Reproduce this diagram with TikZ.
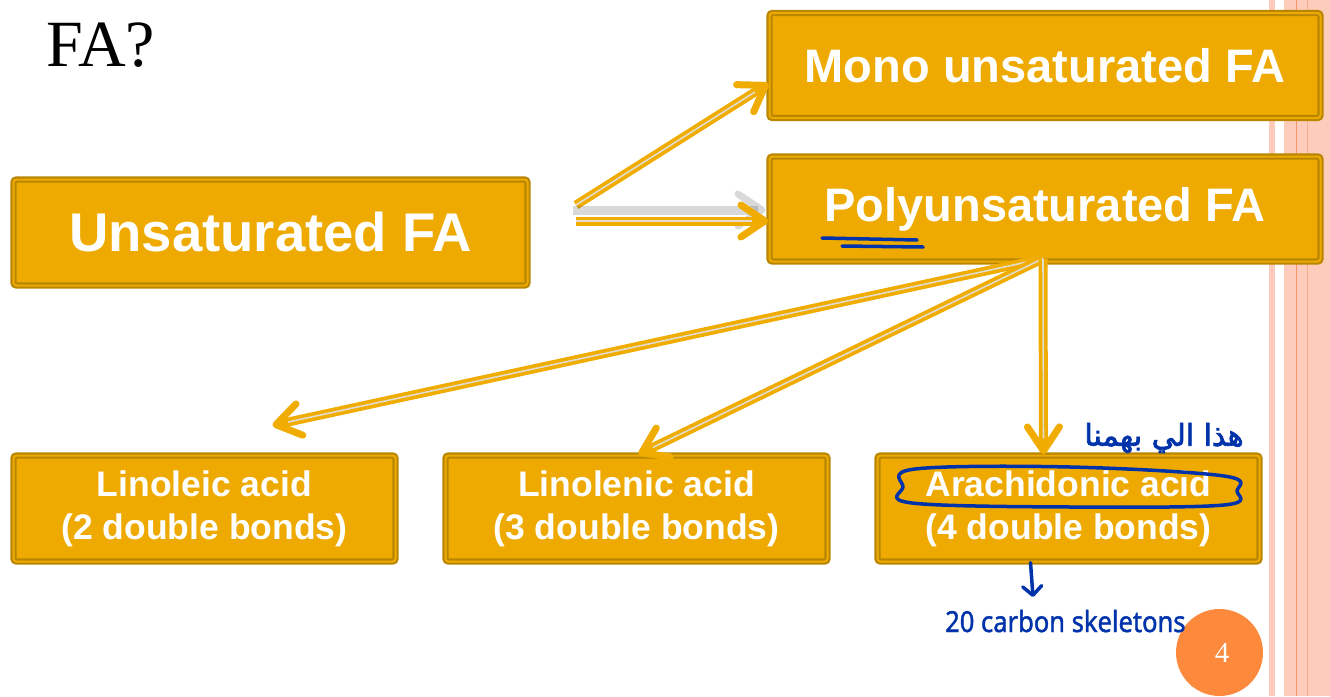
\documentclass[tikz,border=0pt]{standalone}
\usepackage{fontspec}
\setmainfont{Liberation Sans}
\newfontfamily\serifface{Liberation Serif}
\newfontfamily\arabicfont[Script=Arabic, AutoFakeBold=2.5]{DejaVu Sans}
\newfontfamily\inkface[AutoFakeBold=1.5]{Noto Sans}
\TeXXeTstate=1
\usetikzlibrary{arrows.meta, positioning, calc}

\definecolor{boxfill}{RGB}{238,170,0}
\definecolor{boxedge}{RGB}{184,134,0}
\definecolor{arrowgold}{RGB}{240,172,0}
\definecolor{arrowcore}{RGB}{225,220,205}
\definecolor{inkblue}{RGB}{0,51,170}
\definecolor{stripe}{RGB}{253,204,186}
\definecolor{stripeline}{RGB}{248,150,105}
\definecolor{pagedot}{RGB}{253,137,60}

\tikzset{
  fabox/.style={draw=boxedge, double=boxfill, line width=2.2pt, double distance=2pt,
    fill=boxfill, rounded corners=3pt, text=white, align=center, inner sep=0pt},
  bigbox/.style={fabox, minimum width=551pt, minimum height=105pt,
    font=\fontsize{47}{56}\selectfont\bfseries},
  acidbox/.style={fabox, minimum width=382pt, minimum height=106pt,
    font=\fontsize{35.5}{43}\selectfont\bfseries},
  faarrow/.style={draw=arrowgold, line width=9pt,
    -{Straight Barb[length=24pt, width=32pt, line width=7pt, round]},
    postaction={draw=arrowcore, line width=1.6pt, arrows=-, shorten >=16pt}},
  arrowshade/.style={preaction={draw=black, opacity=.15, line width=9pt,
    transform canvas={shift={(-3pt,11pt)}}}},
  inkline/.style={draw=inkblue, line width=3.5pt, line cap=round, line join=round},
}

\begin{document}
\begin{tikzpicture}[x=1pt, y=-1pt]
\useasboundingbox (0,0) rectangle (1330,696);

% side stripes
\fill[stripe] (1269,0) rectangle (1275,696);
\fill[stripe] (1284,0) rectangle (1330,696);
\draw[stripeline, line width=1.3pt] (1296.5,0) -- (1296.5,696);
\draw[stripeline!60!stripe, line width=1pt] (1307.5,0) -- (1307.5,696);

\node[anchor=base west, font=\serifface\fontsize{66}{72}\selectfont] (title) at (43,66) {FA?};

% boxes
\node[bigbox] (mono) at (1045,65.5) {Mono unsaturated FA};
\node[bigbox] (poly) at (1045,209) {Polyunsaturated FA};
\node[fabox, minimum width=514pt, minimum height=106pt,
  font=\fontsize{54.5}{60}\selectfont\bfseries] (unsat) at (270.5,232.5) {Unsaturated FA};

\node[acidbox] (linoleic) at (204.5,508.5) {Linoleic acid\\(2 double bonds)};
\node[acidbox] (linolenic) at (636.5,508.5) {Linolenic acid\\(3 double bonds)};
\node[acidbox] (arachidonic) at (1068.5,508.5) {Arachidonic acid\\(4 double bonds)};

% arrows
\coordinate (forkup) at (576,205);
\coordinate (forkmid) at (576,221);
\draw[faarrow] (forkup) -- ([yshift=-18pt]mono.west);
\draw[faarrow, arrowshade] (forkmid) -- ([yshift=-12pt]poly.west);

\coordinate (polyfoot) at ([xshift=-2pt, yshift=4pt]poly.south);
\draw[faarrow] (polyfoot) -- ($(linoleic.north)+(68,-29)$);
\draw[faarrow] (polyfoot) -- ([xshift=2pt]linolenic.north);
\draw[faarrow] (polyfoot) -- ([xshift=-25pt]arachidonic.north);

% page number
\fill[pagedot] (1219.5,652.5) circle (43.5);
\node[text=white, font=\serifface\fontsize{29}{32}\selectfont] (pagenum) at (1222,653) {4};

% handwritten notes
\draw[inkline] (822,238) -- (917,240);
\draw[inkline] (842,246) -- (923,247);

\draw[inkline] plot[smooth cycle, tension=.6] coordinates
  {(915,469) (1070,467) (1224,476) (1237,491) (1224,505) (1070,507) (912,503) (903,487)};

\node[text=inkblue, font=\arabicfont\bfseries\fontsize{30}{34}\selectfont] (arnote) at (1164,438)
  {\beginR هذا الي بهمنا\endR};

\node[text=inkblue, font=\inkface\bfseries\fontsize{29}{32}\selectfont, anchor=base west,
  inner sep=0pt] (skeleton) at (945,632) {\scalebox{0.88}[1]{20 carbon skeletons}};
\coordinate (skeltip) at (1033,597);
\draw[inkline, -{Straight Barb[length=9pt, width=19pt, line width=3.5pt, round]}]
  ([xshift=-38pt]arachidonic.south) -- (skeltip);

\end{tikzpicture}
\end{document}
